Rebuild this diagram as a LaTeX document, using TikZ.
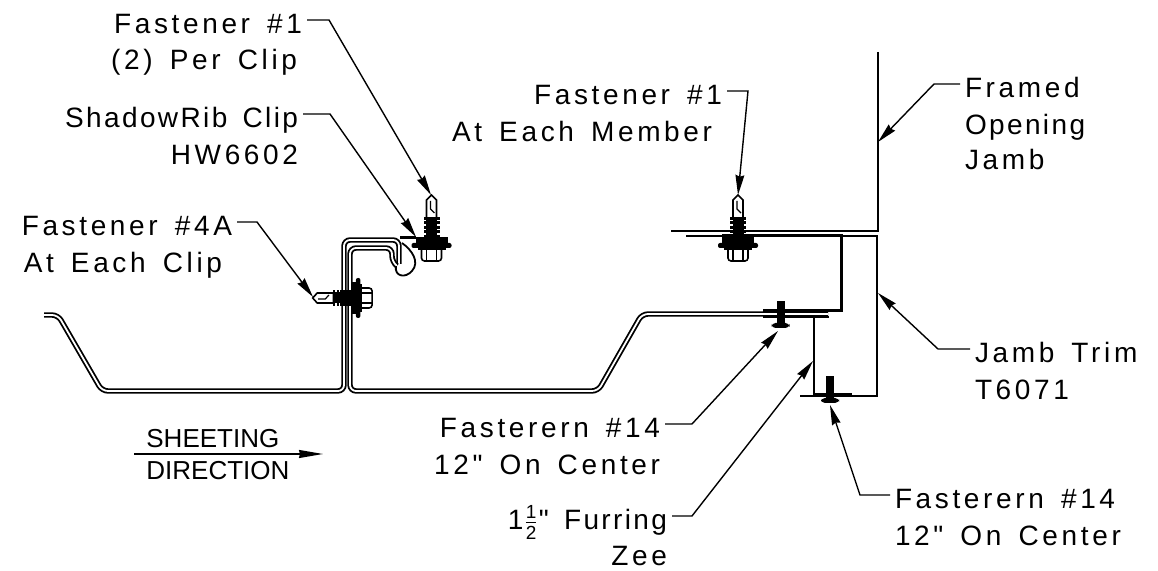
\documentclass[tikz,border=0pt]{standalone}
\usepackage{fontspec}
\setmainfont[LetterSpace=13,WordSpace=1.5,Ligatures=TeXOff]{Liberation Sans}
\newfontfamily\plainfont{Liberation Sans}
\newfontfamily\tightfont[LetterSpace=8.5,WordSpace=1.5,Ligatures=TeXOff]{Liberation Sans}
\usetikzlibrary{arrows.meta}
\newcommand{\halfmark}{$\frac{\mbox{\fontsize{9.5}{9.5}\selectfont 1}}{\mbox{\fontsize{9.5}{9.5}\selectfont 2}}$}
\tikzset{
	label/.style={inner sep=0pt,outer xsep=2.5pt,text height=14pt,text depth=0pt,font=\fontsize{14}{18}\selectfont},
	leftlabel/.style={label,anchor=base east},
	rightlabel/.style={label,anchor=base west},
	dirlabel/.style={inner sep=0pt,anchor=base west,font=\plainfont\fontsize{13}{16}\selectfont},
	leader/.style={line width=0.7pt,-{Stealth[length=10pt,width=4.4pt,inset=0.8pt]}},
	sheet/.style={double=white,line width=0.9pt,double distance=0.9pt,rounded corners=3pt},
	plate/.style={line width=0.9pt},
	heavy/.style={line width=1.5pt},
	pics/tekscrew/.style={code={
		\draw[line width=0.8pt,fill=white] (0,-47) -- (-5,-42) -- (-5,-24) -- (5,-24) -- (5,-42) -- cycle;
		\draw[line width=0.6pt] (-1,-41) -- (-1,-33) -- (3,-29);
		\fill (-5.5,-25) rectangle (5.5,-3);
		\foreach \ribpos in {-25,-20.5,...,-6}
			\fill (-8,\ribpos) rectangle (8,\ribpos+2.6);
		\fill (-16,-5) rectangle (16,1);
		\fill[rounded corners=1pt] (-20,1) rectangle (20,6);
		\fill (-14,6) rectangle (14,8);
		\draw[line width=0.8pt,rounded corners=1.5pt] (-10,7) -- (-10,19) -- (10,19) -- (10,7);
		\draw[line width=0.8pt] (-5,7) -- (-5,19) (5,7) -- (5,19);
	}},
	pics/panscrew/.style={code={
		\fill (-4,-22) rectangle (4,0);
		\fill[rounded corners=2pt] (-9,0) rectangle (9,5);
	}},
}
\begin{document}
\begin{tikzpicture}[x=0.5pt,y=-0.5pt]
	\useasboundingbox (0,0) rectangle (1158,571);
	\path (431,195) coordinate (tipClipScrew);
	\path (416,237) coordinate (tipClip);
	\path (313,297) coordinate (tipSideScrew);
	\path (738,195) coordinate (tipMemberScrew);
	\path (878,142) coordinate (tipJamb);
	\path (878,293) coordinate (tipTrim);
	\path (778,331) coordinate (tipZeeScrew);
	\path (813,361) coordinate (tipZee);
	\path (830,405) coordinate (tipBaseScrew);
	\path (134,454) coordinate (dirStart);
	\path (323,454) coordinate (dirEnd);

	\draw[sheet] (44,315) -- (58,315) -- (102,391) -- (344,391) -- (344,240) -- (399,240) -- (399,264);
	\draw[sheet] (828,314) -- (642,314) -- (598,391) -- (350,391) -- (350,248) -- (392,248) -- (392,262) -- (397,266);
	\draw[heavy] (400,238) -- (416,238);
	\draw[plate] (402,243) .. controls (412,250) and (420,262) .. (412,271) .. controls (405,279) and (394,276) .. (396,266);

	\pic at (431.5,242) {tekscrew};
	\fill (340,290) rectangle (353,306);
	\pic[rotate=90,yscale=0.9] at (355,298) {tekscrew};
	\pic at (738,242) {tekscrew};

	\draw[plate] (878,52) -- (878,231) -- (671,231);
	\draw[plate] (686,236) -- (877,236) -- (877,396) -- (800,396);
	\draw[heavy] (722,236) -- (841,236) -- (841,311) -- (763,311);
	\draw[plate] (829,317) -- (814,317) -- (814,394) -- (852,394);
	\draw[plate] (763,317) -- (829,317);
	\pic at (780.5,323) {panscrew};
	\pic at (830,398) {panscrew};

	\node[leftlabel] (fastOneA) at (307,34) {Fastener \#1};
	\node[leftlabel] (fastOneB) at (302,70) {(2) Per Clip};
	\node[leftlabel] (clipA) at (303,128) {\tightfont ShadowRib Clip};
	\node[leftlabel] (clipB) at (303,165) {HW6602};
	\node[leftlabel] (fastFourA) at (237,236) {Fastener \#4A};
	\node[leftlabel] (fastFourB) at (227,273) {At Each Clip};
	\node[leftlabel] (memberA) at (727,105) {Fastener \#1};
	\node[leftlabel] (memberB) at (717,142) {At Each Member};
	\node[rightlabel] (jambA) at (960,98) {Framed};
	\node[rightlabel] (jambB) at (960,135) {\tightfont Opening};
	\node[rightlabel] (jambC) at (960,170) {Jamb};
	\node[rightlabel] (trimA) at (970,363) {Jamb Trim};
	\node[rightlabel] (trimB) at (970,400) {T6071};
	\node[leftlabel] (zeeScrewA) at (665,438) {Fasterern \#14};
	\node[leftlabel] (zeeScrewB) at (665,475) {12" On Center};
	\node[leftlabel] (zeeA) at (672,530) {\tightfont 1\halfmark" Furring};
	\node[leftlabel] (zeeB) at (672,566) {Zee};
	\node[rightlabel] (baseA) at (890,509) {Fasterern \#14};
	\node[rightlabel] (baseB) at (890,546) {12" On Center};
	\node[dirlabel] (dirA) at (146,448) {SHEETING};
	\node[dirlabel] (dirB) at (146,480) {DIRECTION};

	\draw[leader] (fastOneA.east) -- ++(22,0) -- (tipClipScrew);
	\draw[leader] (clipA.east) -- ++(27,0) -- (tipClip);
	\draw[leader] (fastFourA.east) -- ++(20,0) -- (tipSideScrew);
	\draw[leader] (memberA.east) -- ++(21,0) -- (tipMemberScrew);
	\draw[leader] (jambA.west) -- ++(-26,0) -- (tipJamb);
	\draw[leader] (trimA.west) -- ++(-32,0) -- (tipTrim);
	\draw[leader] (zeeScrewA.east) -- ++(27,0) -- (tipZeeScrew);
	\draw[leader] (zeeA.east) -- ++(20,0) -- (tipZee);
	\draw[leader] (baseA.west) -- ++(-30,0) -- (tipBaseScrew);
	\draw[line width=0.7pt,-{Stealth[length=12pt,width=4pt,inset=0.5pt]}] (dirStart) -- (dirEnd);
\end{tikzpicture}
\end{document}
